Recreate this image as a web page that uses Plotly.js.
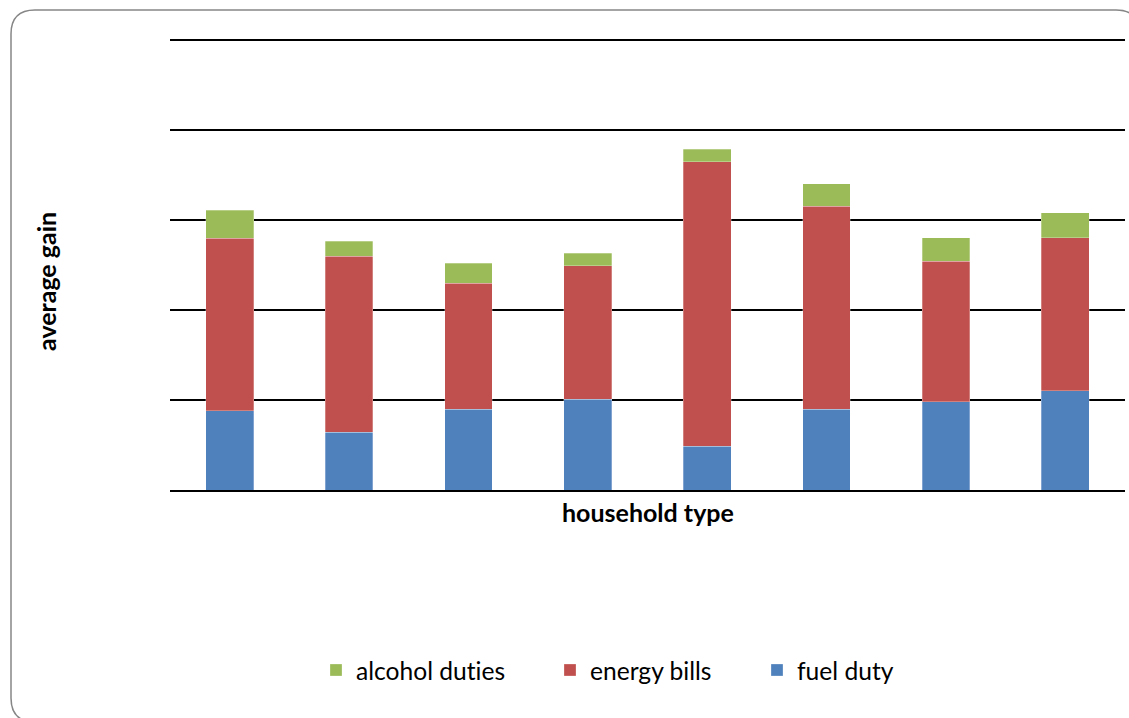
<!DOCTYPE html>
<html>
<head>
<meta charset="utf-8">
<script src="https://cdn.plot.ly/plotly-3.0.1.min.js"></script>
<style>
html,body{margin:0;padding:0;background:#fff;}
#chart{width:1129px;height:718px;}
svg text{font-variant-ligatures:none;font-feature-settings:"liga" 0, "clig" 0;}
</style>
</head>
<body>
<div id="chart"></div>
<script>
// Household types (no labels shown in the reference)
var categories = ["type 1","type 2","type 3","type 4","type 5","type 6","type 7","type 8"];
// Values (units: one gridline step = 20)
var fuelDuty      = [17.6, 12.8, 17.9, 20.2,  9.7, 17.9, 19.6, 22.1];
var energyBills   = [38.4, 39.2, 28.1, 29.6, 63.2, 45.2, 31.2, 34.0];
var alcoholDuties = [ 6.2,  3.3,  4.4,  2.8,  2.8,  5.0,  5.3,  5.5];
var seriesNames = ["fuel duty","energy bills","alcohol duties"];
var seriesColors = ["#4F81BD","#C0504D","#9BBB59"];

var W = 1129, H = 718;
var L = 170, R = 4, T = 35, B = 228;
var pw = W - L - R, ph = H - T - B;
var yMax = ph / 4.5; // top slightly above the last gridline so it is drawn
function px(x){ return (x - L) / pw; }
function py(y){ return (H - B - y) / ph; }

var FONT = "Lato, 'Liberation Sans', Arial, sans-serif";

var traces = [
  {type:"bar", x:categories, y:fuelDuty, name:seriesNames[0], legend:"legend3",
   marker:{color:seriesColors[0], line:{color:"rgba(255,255,255,0.35)", width:0.8}}},
  {type:"bar", x:categories, y:energyBills, name:seriesNames[1], legend:"legend2",
   marker:{color:seriesColors[1], line:{color:"rgba(255,255,255,0.35)", width:0.8}}},
  {type:"bar", x:categories, y:alcoholDuties, name:seriesNames[2], legend:"legend",
   marker:{color:seriesColors[2], line:{color:"rgba(255,255,255,0.35)", width:0.8}}}
];

// rounded border
var bx0 = 11, by0 = 10, bx1 = 1140, by1 = 722, r = 24;
var path = "M" + px(bx0 + r) + "," + py(by0) +
  " L" + px(bx1 - r) + "," + py(by0) +
  " Q" + px(bx1) + "," + py(by0) + " " + px(bx1) + "," + py(by0 + r) +
  " L" + px(bx1) + "," + py(by1 - r) +
  " Q" + px(bx1) + "," + py(by1) + " " + px(bx1 - r) + "," + py(by1) +
  " L" + px(bx0 + r) + "," + py(by1) +
  " Q" + px(bx0) + "," + py(by1) + " " + px(bx0) + "," + py(by1 - r) +
  " L" + px(bx0) + "," + py(by0 + r) +
  " Q" + px(bx0) + "," + py(by0) + " " + px(bx0 + r) + "," + py(by0) + " Z";

var legFont = {family:FONT, size:24.6, color:"#000"};
function leg(xpx){
  return {orientation:"h", x:px(xpx), xanchor:"left", y:py(670), yanchor:"middle",
          bgcolor:"rgba(0,0,0,0)", borderwidth:0, font:legFont, itemclick:false};
}

var layout = {
  width:W, height:H,
  margin:{l:L, r:R, t:T, b:B, pad:0},
  paper_bgcolor:"#fff", plot_bgcolor:"#fff",
  barmode:"stack", bargap:0.6,
  showlegend:true,
  legend: leg(316),
  legend2: leg(550),
  legend3: leg(757),
  xaxis:{showticklabels:false, ticks:"", showgrid:false, zeroline:false,
         showline:true, linecolor:"#000", linewidth:2},
  yaxis:{range:[0,yMax], tick0:0, dtick:20, showticklabels:false, ticks:"",
         showgrid:true, gridcolor:"#000", gridwidth:1.8, zeroline:false, showline:false},
  shapes:[{type:"path", xref:"paper", yref:"paper", path:path,
           line:{color:"#868686", width:1.5}, fillcolor:"rgba(0,0,0,0)", layer:"below"}],
  annotations:[
    {text:"<b>household type</b>", xref:"paper", yref:"paper", x:px(648), y:py(512),
     xanchor:"center", yanchor:"middle", showarrow:false,
     font:{family:FONT, size:25, color:"#000"}},
    {text:"<b>average gain</b>", xref:"paper", yref:"paper", x:px(46), y:py(282),
     xanchor:"center", yanchor:"middle", showarrow:false, textangle:-90,
     font:{family:FONT, size:25, color:"#000"}}
  ]
};

Plotly.newPlot("chart", traces, layout, {displayModeBar:false, staticPlot:true});
</script>
</body>
</html>
